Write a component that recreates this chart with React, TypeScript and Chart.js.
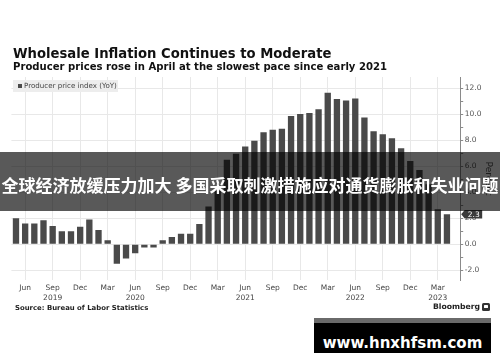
import React, { useEffect, useRef } from 'react';
import { Chart, registerables } from 'chart.js';

Chart.register(...registerables);

// ---- Data ----
const categories = [
  '2019-05', '2019-06', '2019-07', '2019-08', '2019-09', '2019-10', '2019-11', '2019-12',
  '2020-01', '2020-02', '2020-03', '2020-04', '2020-05', '2020-06', '2020-07', '2020-08',
  '2020-09', '2020-10', '2020-11', '2020-12', '2021-01', '2021-02', '2021-03', '2021-04',
  '2021-05', '2021-06', '2021-07', '2021-08', '2021-09', '2021-10', '2021-11', '2021-12',
  '2022-01', '2022-02', '2022-03', '2022-04', '2022-05', '2022-06', '2022-07', '2022-08',
  '2022-09', '2022-10', '2022-11', '2022-12', '2023-01', '2023-02', '2023-03', '2023-04',
];

const ppiYoY = [
  2.0, 1.6, 1.6, 1.85, 1.4, 1.0, 1.0, 1.35,
  1.9, 1.1, 0.3, -1.5, -1.1, -0.7, -0.25, -0.25,
  0.3, 0.55, 0.8, 0.8, 1.55, 2.9, 4.1, 6.5,
  6.95, 7.5, 7.95, 8.6, 8.8, 8.87, 9.85, 10.0,
  10.08, 10.38, 11.64, 11.15, 11.05, 11.2, 9.74, 8.69,
  8.46, 8.15, 7.38, 6.4, 5.7, 4.6, 2.68, 2.3,
];

const monthNames = ['Jan', 'Feb', 'Mar', 'Apr', 'May', 'Jun', 'Jul', 'Aug', 'Sep', 'Oct', 'Nov', 'Dec'];
const tickMonths = ['03', '06', '09', '12'];
const yearLabels = ['2019', '2020', '2021', '2022', '2023'];
const yearAnchors = ['2019-09', '2020-06', '2021-06', '2022-06', '2023-03'];
const yTickValues = [-2, -1, 0, 1, 2, 3, 4, 5, 6, 7, 8, 9, 10, 11, 12];

const titleText = 'Wholesale Inflation Continues to Moderate';
const subtitleText = 'Producer prices rose in April at the slowest pace since early 2021';
const legendText = 'Producer price index (YoY)';
const sourceText = 'Source: Bureau of Labor Statistics';
const bannerText = '全球经济放缓压力加大 多国采取刺激措施应对通货膨胀和失业问题';
const watermarkText = 'www.hnxhfsm.com';

const FONT = '"DejaVu Sans", Verdana, sans-serif';

const lastTagPlugin = {
  id: 'lastTag',
  afterDraw(chart: any) {
    const y = chart.scales.y;
    const ctx = chart.ctx;
    const v = ppiYoY[ppiYoY.length - 1];
    const py = y.getPixelForValue(v);
    const x0 = y.left + 0.5;
    ctx.save();
    ctx.fillStyle = '#3a3a3a';
    ctx.beginPath();
    ctx.moveTo(x0, py);
    ctx.lineTo(x0 + 3.5, py - 4.2);
    ctx.lineTo(x0 + 21, py - 4.2);
    ctx.lineTo(x0 + 21, py + 4.2);
    ctx.lineTo(x0 + 3.5, py + 4.2);
    ctx.closePath();
    ctx.fill();
    ctx.fillStyle = '#ffffff';
    ctx.font = `7.5px ${FONT}`;
    ctx.textAlign = 'center';
    ctx.textBaseline = 'middle';
    ctx.fillText(v.toFixed(1), x0 + 12.5, py + 0.5);
    ctx.restore();
  },
};

function PPIChart() {
  const ref = useRef<HTMLCanvasElement | null>(null);

  useEffect(() => {
    if (!ref.current) return;
    const quarterIdx = categories
      .map((c, i) => (tickMonths.includes(c.slice(5)) ? i : -1))
      .filter((i) => i >= 0);

    const chart = new Chart(ref.current, {
      type: 'bar',
      data: {
        datasets: [
          {
            label: legendText,
            data: ppiYoY.map((v, i) => ({ x: i, y: v })),
            backgroundColor: '#4a4a4a',
            borderWidth: 0,
            barPercentage: 0.69,
            categoryPercentage: 1,
          },
        ],
      },
      options: {
        animation: false,
        responsive: false,
        devicePixelRatio: 1,
        layout: { padding: { left: 11.4, top: 77, right: 0, bottom: 0 } },
        plugins: {
          legend: { display: false },
          title: { display: false },
          tooltip: { enabled: false },
        },
        scales: {
          x: {
            type: 'linear',
            offset: false,
            min: -0.5,
            max: categories.length + 0.5,
            afterFit: (s: any) => {
              s.height = 82;
              s.paddingLeft = 0;
              s.paddingRight = 0;
            },
            afterBuildTicks: (axis: any) => {
              axis.ticks = quarterIdx.map((v) => ({ value: v }));
            },
            border: { display: false },
            grid: { color: '#e8e8e8', lineWidth: 1, drawTicks: false, offset: false },
            ticks: {
              autoSkip: false,
              maxRotation: 0,
              minRotation: 0,
              padding: 3,
              color: '#444',
              font: { family: FONT, size: 7.5, lineHeight: 1.3 },
              callback: (value: any) => {
                const c = categories[Math.round(Number(value))];
                if (!c) return '';
                const m = monthNames[parseInt(c.slice(5), 10) - 1];
                const yi = yearAnchors.indexOf(c);
                return yi >= 0 ? [m, yearLabels[yi]] : m;
              },
            },
          },
          y: {
            position: 'right',
            min: -2.75,
            max: 12.85,
            afterFit: (s: any) => {
              s.width = 39.3;
              s.paddingTop = 0;
              s.paddingBottom = 0;
            },
            afterBuildTicks: (axis: any) => {
              axis.ticks = yTickValues.map((v) => ({ value: v }));
            },
            border: { display: true, color: '#8a8a8a', width: 1 },
            grid: {
              color: (ctx: any) => (ctx.tick && ctx.tick.value % 2 === 0 ? '#e8e8e8' : 'rgba(0,0,0,0)'),
              tickColor: '#8a8a8a',
              tickLength: 2.5,
              lineWidth: 1,
            },
            ticks: {
              padding: 1.5,
              color: '#555',
              font: { family: FONT, size: 7.5 },
              callback: (value: any) => (Number(value) % 2 === 0 ? Number(value).toFixed(1) : ''),
            },
            title: {
              display: true,
              text: 'Percent',
              color: '#555',
              font: { family: FONT, size: 9 },
              padding: { top: 6.5, bottom: 0 },
            },
          },
        },
      },
      plugins: [lastTagPlugin],
    } as any);

    return () => chart.destroy();
  }, []);

  return (
    <canvas
      ref={ref}
      width={500}
      height={362}
      style={{ position: 'absolute', left: 0, top: 0, width: 500, height: 362 }}
    />
  );
}

export default function App() {
  const abs = (o: React.CSSProperties): React.CSSProperties => ({ position: 'absolute', whiteSpace: 'nowrap', ...o });
  return (
    <div style={{ position: 'absolute', left: 0, top: 0, width: 500, height: 362, background: '#fff', overflow: 'hidden' }}>
      <PPIChart />
      <div style={abs({ left: 13, top: 47.1, fontFamily: FONT, fontWeight: 'bold', fontSize: 13.2, lineHeight: 1, color: '#111' })}>
        {titleText}
      </div>
      <div style={abs({ left: 13, top: 61.5, fontFamily: FONT, fontWeight: 'bold', fontSize: 10.1, lineHeight: 1, color: '#111' })}>
        {subtitleText}
      </div>
      <div style={abs({ left: 13, top: 79.5, width: 105, height: 12.5, background: '#ededed' })}>
        <div style={abs({ left: 5, top: 4, width: 4, height: 4, background: '#4a4a4a' })} />
        <div style={abs({ left: 11, top: 2.4, fontFamily: FONT, fontSize: 7.1, lineHeight: 1, color: '#444' })}>
          {legendText}
        </div>
      </div>
      <div style={abs({ left: 15, top: 304.6, fontFamily: FONT, fontWeight: 'bold', fontSize: 6.9, lineHeight: 1, color: '#222' })}>
        {sourceText}
      </div>
      <div style={abs({ left: 433, top: 302.8, fontFamily: FONT, fontWeight: 'bold', fontSize: 7.7, lineHeight: 1, color: '#222' })}>
        Bloomberg
      </div>
      <div style={abs({ left: 482, top: 303, width: 8, height: 8, background: '#333', borderRadius: 1.5 })}>
        <div style={abs({ left: 2, top: 2, width: 4, height: 3, background: '#fff', borderRadius: 0.5 })} />
      </div>
      <div style={abs({ left: 0, top: 152, width: 500, height: 59, background: 'rgba(0,0,0,0.65)' })}>
        <div
          style={abs({
            left: 0,
            top: 32 - 8.5,
            width: 500,
            textAlign: 'center',
            fontFamily: '"Noto Sans CJK SC", sans-serif',
            fontWeight: 'bold',
            fontSize: 17,
            lineHeight: 1,
            color: '#fff',
          })}
        >
          {bannerText}
        </div>
      </div>
      <div style={abs({ left: 314, top: 318, width: 177, height: 30, background: '#000', borderTop: '5px solid #6a6a6a' })}>
        <div
          style={abs({
            left: 0,
            top: 25.3 - 12.7,
            width: 177,
            textAlign: 'center',
            fontFamily: FONT,
            fontWeight: 'bold',
            fontSize: 15,
            lineHeight: 1,
            color: '#fff',
          })}
        >
          {watermarkText}
        </div>
      </div>
    </div>
  );
}
